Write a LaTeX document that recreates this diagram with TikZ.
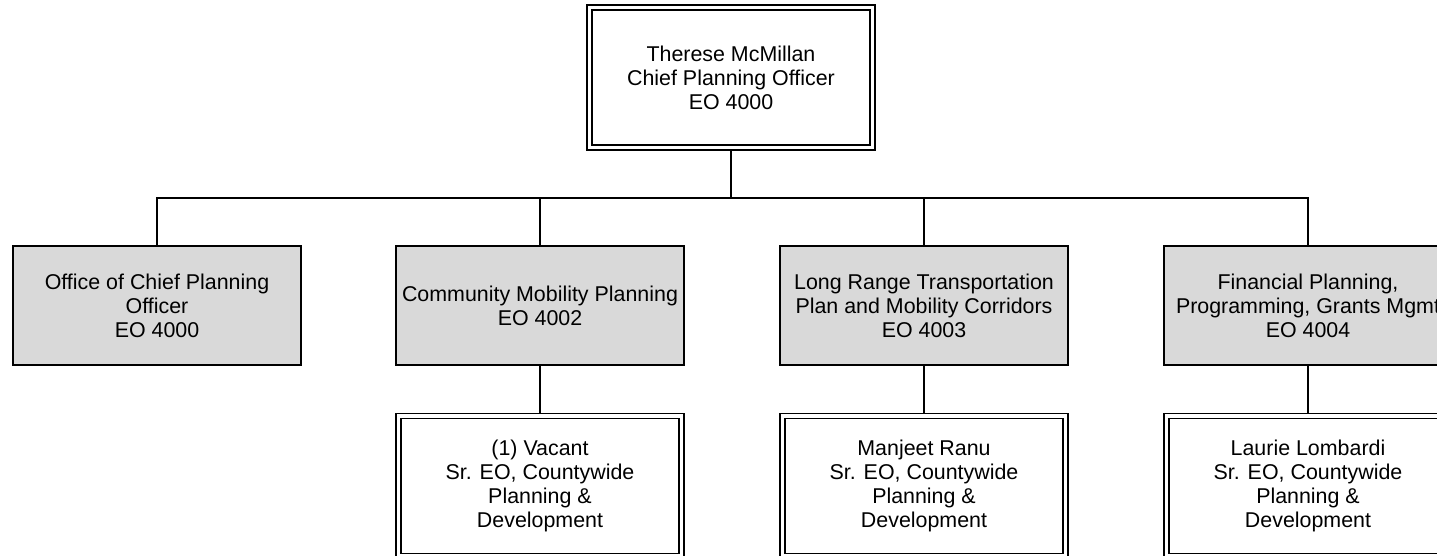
\documentclass[tikz,border=0pt]{standalone}
\usepackage{fontspec}
\setmainfont{Liberation Sans}
\usepackage{tikz}
\usetikzlibrary{backgrounds}
\usepackage{xcolor}
\definecolor{cinza}{HTML}{D9D9D9}

\begin{document}
\begin{tikzpicture}[x=0.5pt, y=-0.5pt,
    texto/.style={align=center, inner sep=0pt, font=\fontsize{10.7}{12}\selectfont},
    dupla/.style={texto, draw, double, double distance=1.6pt, line width=0.85pt, fill=white,
        minimum width=141.75pt, minimum height=70pt},
    unidade/.style={texto, draw, line width=0.85pt, fill=cinza,
        minimum width=144pt, minimum height=59.5pt},
    ligacao/.style={line width=0.85pt}]
        % Area visivel
        \useasboundingbox (0,0) rectangle (1437,556);
        \clip (0,0) rectangle (1437,556);

        % Caixa do topo
        \node[dupla] (chefe) at (731,77.5) {Therese McMillan\\Chief Planning Officer\\EO 4000};
        \coordinate (barra) at (731,198);

        % Unidades
        \node[unidade] (gab) at (157,305.5) {Office of Chief Planning\\Officer\\EO 4000};
        \node[unidade] (cmp) at (540,305.5) {Community Mobility Planning\\EO 4002};
        \node[unidade] (lrtp) at (924,305.5) {Long Range Transportation\\Plan and Mobility Corridors\\EO 4003};
        \node[unidade] (fin) at (1308,305.5) {Financial Planning,\\Programming, Grants Mgmt\\EO 4004};

        % Chefias das unidades
        \node[dupla] (vago) at (540,486) {(1) Vacant\\Sr. EO, Countywide\\Planning \&\\Development};
        \node[dupla] (ranu) at (924,486) {Manjeet Ranu\\Sr. EO, Countywide\\Planning \&\\Development};
        \node[dupla] (lomb) at (1308,486) {Laurie Lombardi\\Sr. EO, Countywide\\Planning \&\\Development};

        % Ligacoes
        \begin{scope}[on background layer]
            \draw[ligacao] (chefe) -- (barra);
            \foreach \u in {gab,cmp,lrtp,fin}
                \draw[ligacao] (barra) -| (\u);
            \draw[ligacao] (cmp) -- (vago);
            \draw[ligacao] (lrtp) -- (ranu);
            \draw[ligacao] (fin) -- (lomb);
        \end{scope}
    \end{tikzpicture}
\end{document}
